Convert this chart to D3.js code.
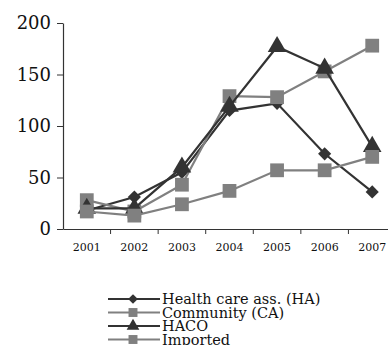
<!DOCTYPE html>
<html>
<head>
<meta charset="utf-8">
<script src="https://cdn.jsdelivr.net/npm/d3@7"></script>
<style>
  body { margin: 0; background: #fff; }
</style>
</head>
<body>
<div id="chart"></div>
<script>
// data
const years = ["2001", "2002", "2003", "2004", "2005", "2006", "2007"];
const healthCare = [18, 31, 55, 115, 122, 73, 36];
const community = [28, 17, 43, 129, 128, 153, 178];
const haco = [20, 20, 60, 119, 177, 156, 80];
const imported = [17, 13, 24, 37, 57, 57, 70];
const yTicks = [0, 50, 100, 150, 200];

const series = [
  { name: "Health care ass. (HA)", values: healthCare, color: "#333333", shape: "diamond" },
  { name: "Community (CA)", values: community, color: "#808080", shape: "square" },
  { name: "HACO", values: haco, color: "#333333", shape: "triangle" },
  { name: "Imported", values: imported, color: "#808080", shape: "square" }
];

const W = 388, H = 345;
const svg = d3.select("#chart").append("svg")
  .attr("width", W).attr("height", H);

const x = d3.scaleBand().domain(years).range([63, 396]);
const y = d3.scaleLinear().domain([0, 200]).range([229, 23]);

// y axis
const yAxis = svg.append("g")
  .attr("transform", "translate(63,0)")
  .call(d3.axisLeft(y).tickValues(yTicks).tickSize(6).tickSizeOuter(0).tickPadding(6));
yAxis.select(".domain").attr("stroke", "#333").attr("stroke-width", 1.2);
yAxis.selectAll(".tick line").attr("stroke", "#333");
yAxis.selectAll("text")
  .attr("font-family", "DejaVu Serif").attr("font-size", 18).attr("fill", "#111");

// x axis
const xAxis = svg.append("g")
  .attr("transform", "translate(0,229)")
  .call(d3.axisBottom(x).tickSize(0).tickPadding(14));
xAxis.select(".domain").attr("stroke", "#333").attr("stroke-width", 1.2);
xAxis.selectAll("text")
  .attr("font-family", "DejaVu Serif").attr("font-size", 11).attr("fill", "#111");
// tick marks at band boundaries
xAxis.selectAll(".sep").data(years.slice(1))
  .enter().append("line")
  .attr("x1", d => x(d)).attr("x2", d => x(d))
  .attr("y1", 0).attr("y2", 5)
  .attr("stroke", "#333");

const cx = d => x(d) + x.bandwidth() / 2;

const symbols = {
  diamond: d3.symbol().type(d3.symbolDiamond2).size(110),
  square: d3.symbol().type(d3.symbolSquare).size(190),
  triangle: d3.symbol().type(d3.symbolTriangle).size(150)
};
const legendSymbols = {
  diamond: d3.symbol().type(d3.symbolDiamond2).size(60),
  square: d3.symbol().type(d3.symbolSquare).size(80),
  triangle: d3.symbol().type(d3.symbolTriangle).size(70)
};

const line = d3.line().x((d, i) => cx(years[i])).y(d => y(d));

series.forEach(s => {
  svg.append("path")
    .datum(s.values)
    .attr("fill", "none")
    .attr("stroke", s.color)
    .attr("stroke-width", 2.2)
    .attr("d", line);
  svg.append("g").selectAll("path")
    .data(s.values)
    .enter().append("path")
    .attr("transform", (d, i) => `translate(${cx(years[i])},${y(d)})`)
    .attr("d", symbols[s.shape])
    .attr("fill", s.color);
});

// legend
const legend = svg.append("g");
series.forEach((s, i) => {
  const ly = 299 + i * 13.5;
  legend.append("line")
    .attr("x1", 108).attr("x2", 160).attr("y1", ly).attr("y2", ly)
    .attr("stroke", s.color).attr("stroke-width", 2.2);
  legend.append("path")
    .attr("transform", `translate(133,${ly})`)
    .attr("d", legendSymbols[s.shape])
    .attr("fill", s.color);
  legend.append("text")
    .attr("x", 162).attr("y", ly + 5)
    .attr("font-family", "DejaVu Serif").attr("font-size", 14.5).attr("fill", "#111")
    .text(s.name);
});
</script>
</body>
</html>
